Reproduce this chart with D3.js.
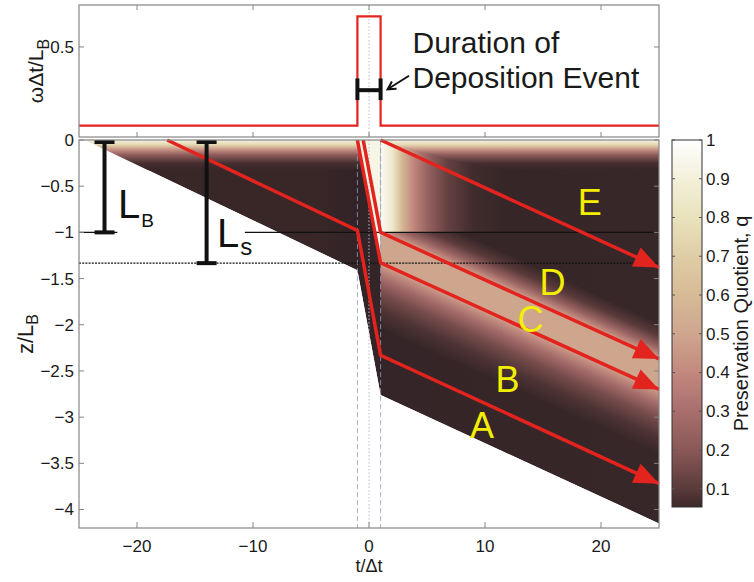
<!DOCTYPE html>
<html>
<head>
<meta charset="utf-8">
<script src="https://cdn.jsdelivr.net/npm/d3@7"></script>
<style>
  body { margin: 0; background: #fff; }
  svg { display: block; font-family: "Liberation Sans", Arial, Helvetica, sans-serif; }
</style>
</head>
<body>
<script>
// ---- values ----
const tTicks = [-20, -10, 0, 10, 20];
const zTicks = [0, -0.5, -1, -1.5, -2, -2.5, -3, -3.5, -4];
const wTicks = [0.5];
const qTicks = [0.1, 0.2, 0.3, 0.4, 0.5, 0.6, 0.7, 0.8, 0.9, 1];

// burial rate (top panel), step after each t
const rateT = [-25, -1, 1, 25];
const rateW = [0.063, 0.67, 0.063, 0.063];

// lower edge of the sediment column
const edgeT = [-24.5, -1, 1, 25];
const edgeZ = [0, -1.41, -2.76, -4.15];

// tracer paths (t/dt, z/LB)
const pathA = [[-17.4, 0], [-1, -0.98], [1, -2.33], [25, -3.72]];
const pathB = [[-1, 0], [1, -1.33], [25, -2.70]];
const pathC = [[-0.5, 0], [1, -1.0], [25, -2.37]];
const pathE = [[1, 0], [25, -1.38]];

// colour map
const cmapQ = [0, 0.05, 0.1, 0.2, 0.3, 0.4, 0.5, 0.6, 0.7, 0.8, 0.9, 1];
const cmapC = ['#2e2127', '#3a2828', '#5a3a3a', '#8a5858', '#a86e6c', '#c2887e',
               '#cea68e', '#d6ba96', '#dfcda6', '#e9e2bc', '#f3f0da', '#ffffff'];
const qMin = 0.053;

// pieces of the q field
const baseT = [-25, -4.5, -1, 1, 25];
const baseQ = [0.045, 0.045, 0.015, 0.03, 0.04];
const surfZ = [0, -0.05, -0.1, -0.16, -0.25, -0.33];
const surfQ = [0.92, 0.75, 0.45, 0.22, 0.07, 0.03];
const stripeT = [1, 2, 2.8, 3.8, 5, 6.8, 9, 12];
const stripeQ = [0.97, 0.85, 0.6, 0.4, 0.25, 0.12, 0.06, 0.03];
const bandDz = [-0.4, -0.25, -0.12, -0.03, 0, 0.33, 0.38, 0.5, 0.65, 0.85, 1.05];
const bandQ = [0.03, 0.1, 0.25, 0.42, 0.5, 0.5, 0.42, 0.28, 0.16, 0.08, 0.03];
const pulseQ = 0.93;

// reference lines and marks
const lbZ = -1, lsZ = -1.333;
const lbSegs = [[-25, -21.7], [-10.7, 25]];
const barLB = { t: -22.8, z0: 0, z1: lbZ };
const barLS = { t: -14.0, z0: 0, z1: lsZ };
const durBar = { t0: -1, t1: 1, w: 0.26, c0: 0.205, c1: 0.325 };
const durArrow = [[3.45, 0.34], [1.6, 0.265]];
const regionLabels = [
  { s: 'E', t: 18.0, z: -0.81 }, { s: 'D', t: 14.7, z: -1.68 },
  { s: 'C', t: 12.8, z: -2.08 }, { s: 'B', t: 10.9, z: -2.73 },
  { s: 'A', t: 8.7, z: -3.23 }
];

const W = 754, H = 582;
const svg = d3.select('body').append('svg').attr('width', W).attr('height', H);
const defs = svg.append('defs');

const x = d3.scaleLinear().domain([-25, 25]).range([79, 659]);
const yTop = d3.scaleLinear().domain([0, 0.733]).range([137, 5]);
const y = d3.scaleLinear().domain([-4.2, 0]).range([528, 140]);
const yBar = d3.scaleLinear().domain([qMin, 1]).range([507, 140]);
const color = d3.scaleLinear().domain(cmapQ).range(cmapC).clamp(true);

const line = d3.line().x(d => x(d[0])).y(d => y(d[1]));
const poly = pts => line(pts) + 'Z';

function linGrad(id, p0, p1, offs, qs) {
  const g = defs.append('linearGradient').attr('id', id)
    .attr('gradientUnits', 'userSpaceOnUse')
    .attr('x1', p0[0]).attr('y1', p0[1]).attr('x2', p1[0]).attr('y2', p1[1]);
  offs.forEach((o, i) => g.append('stop').attr('offset', o).attr('stop-color', color(qs[i])));
}

// ---- heat map ----
const edge = edgeT.map((t, i) => [t, edgeZ[i]]);
const domainPoly = [[25, 0]].concat(edge);
defs.append('clipPath').attr('id', 'domClip').append('path').attr('d', poly(domainPoly));

linGrad('gBase', [x(-25), 0], [x(25), 0], baseT.map(t => (t + 25) / 50), baseQ);
linGrad('gSurf', [0, y(0)], [0, y(surfZ[surfZ.length - 1])],
  surfZ.map(z => z / surfZ[surfZ.length - 1]), surfQ);
linGrad('gStripe', [x(stripeT[0]), 0], [x(stripeT[stripeT.length - 1]), 0],
  stripeT.map(t => (t - stripeT[0]) / (stripeT[stripeT.length - 1] - stripeT[0])), stripeQ);

// band gradient runs perpendicular to path C
{
  const a = pathC[1], b = pathC[2];
  const d0 = bandDz[0], d1 = bandDz[bandDz.length - 1];
  const p0 = [x(a[0]), y(a[1] - d0)];
  const dx = x(b[0]) - x(a[0]), dy = y(b[1]) - y(a[1]);
  const len = Math.hypot(dx, dy), ux = dx / len, uy = dy / len;
  const vy = y(a[1] - d1) - y(a[1] - d0);
  const dot = vy * uy;
  const p1 = [p0[0] - dot * ux, p0[1] + vy - dot * uy];
  linGrad('gBand', p0, p1, bandDz.map(d => (d - d0) / (d1 - d0)), bandQ);
}

const heat = svg.append('g').attr('clip-path', 'url(#domClip)').style('isolation', 'isolate');
heat.append('path').attr('d', poly(domainPoly)).attr('fill', 'url(#gBase)');
heat.append('path')
  .attr('d', poly([[1, 0], [25, 0], [25, lbZ], [1, lbZ]]))
  .attr('fill', 'url(#gStripe)').style('mix-blend-mode', 'lighten');
{
  const a = pathC[1], b = pathC[2], d0 = bandDz[0], d1 = bandDz[bandDz.length - 1];
  heat.append('path')
    .attr('d', poly([[a[0], a[1] - d0], [b[0], b[1] - d0], [b[0], b[1] - d1], [a[0], a[1] - d1]]))
    .attr('fill', 'url(#gBand)').style('mix-blend-mode', 'lighten');
}
heat.append('path')
  .attr('d', poly([pathB[0], [1, 0], pathB[1]]))
  .attr('fill', color(pulseQ)).style('mix-blend-mode', 'lighten');
heat.append('rect')
  .attr('x', x(-25)).attr('width', x(25) - x(-25))
  .attr('y', y(0)).attr('height', y(surfZ[surfZ.length - 1]) - y(0))
  .attr('fill', 'url(#gSurf)').style('mix-blend-mode', 'lighten');

// ---- guide lines, bottom panel ----
[-1, 1].forEach(t => svg.append('line')
  .attr('x1', x(t)).attr('x2', x(t)).attr('y1', y(0)).attr('y2', y(-4.2))
  .attr('stroke', '#8c9ec4').attr('stroke-width', 1).attr('stroke-dasharray', '5,3')
  .attr('opacity', 0.8));
svg.append('line')
  .attr('x1', x(0)).attr('x2', x(0)).attr('y1', y(0)).attr('y2', y(-4.2))
  .attr('stroke', '#b4bccf').attr('stroke-width', 1).attr('stroke-dasharray', '1.5,2');

lbSegs.forEach(s => svg.append('line')
  .attr('x1', x(s[0])).attr('x2', x(s[1])).attr('y1', y(lbZ)).attr('y2', y(lbZ))
  .attr('stroke', '#111').attr('stroke-width', 1.3));
svg.append('line')
  .attr('x1', x(-25)).attr('x2', x(25)).attr('y1', y(lsZ)).attr('y2', y(lsZ))
  .attr('stroke', '#111').attr('stroke-width', 1.4).attr('stroke-dasharray', '2,1.2');

// ---- tracer paths ----
const red = '#e3231e';
[pathA, pathB, pathC, pathE].forEach(p => {
  svg.append('path').attr('d', line(p)).attr('fill', 'none')
    .attr('stroke', red).attr('stroke-width', 3.5).attr('stroke-linejoin', 'miter');
  const n = p.length;
  const x1 = x(p[n - 2][0]), y1 = y(p[n - 2][1]), x2 = x(p[n - 1][0]), y2 = y(p[n - 1][1]);
  const ang = Math.atan2(y2 - y1, x2 - x1);
  const L = 25, hw = 10.5;
  const bx = x2 - L * Math.cos(ang), by = y2 - L * Math.sin(ang);
  svg.append('path')
    .attr('d', `M${x2},${y2}L${bx - hw * Math.sin(ang)},${by + hw * Math.cos(ang)}L${bx + hw * Math.sin(ang)},${by - hw * Math.cos(ang)}Z`)
    .attr('fill', red);
});

// ---- L_B and L_s bars ----
[barLB, barLS].forEach(b => {
  const g = svg.append('g').attr('stroke', '#111').attr('stroke-width', 4);
  g.append('line').attr('x1', x(b.t)).attr('x2', x(b.t)).attr('y1', y(b.z0) + 2).attr('y2', y(b.z1));
  [b.z0, b.z1].forEach((z, i) => g.append('line')
    .attr('x1', x(b.t) - 10).attr('x2', x(b.t) + 10)
    .attr('y1', y(z) + (i ? 0 : 2)).attr('y2', y(z) + (i ? 0 : 2)));
});
const lbText = svg.append('text').attr('x', x(-21.64)).attr('y', y(-0.844))
  .attr('font-size', 40).attr('fill', '#111').text('L');
lbText.append('tspan').attr('font-size', 19).attr('dx', 1).attr('dy', 9).text('B');
const lsText = svg.append('text').attr('x', x(-13.1)).attr('y', y(-1.158))
  .attr('font-size', 40).attr('fill', '#111').text('L');
lsText.append('tspan').attr('font-size', 24).attr('dx', 1).attr('dy', 8).text('s');

// region letters
svg.selectAll('text.reg').data(regionLabels).join('text').attr('class', 'reg')
  .attr('x', d => x(d.t)).attr('y', d => y(d.z))
  .attr('font-size', 36).attr('fill', '#f2ef00').text(d => d.s);

// ---- bottom axes frame, ticks, labels ----
const axCol = '#858585';
svg.append('rect').attr('x', x(-25)).attr('y', y(0)).attr('width', x(25) - x(-25)).attr('height', y(-4.2) - y(0))
  .attr('fill', 'none').attr('stroke', axCol).attr('stroke-width', 1.2);
tTicks.forEach(t => {
  svg.append('line').attr('x1', x(t)).attr('x2', x(t)).attr('y1', y(-4.2)).attr('y2', y(-4.2) - 6).attr('stroke', axCol);
  svg.append('text').attr('x', x(t)).attr('y', 552).attr('text-anchor', 'middle')
    .attr('font-size', 17).attr('fill', '#1a1a1a').text(d3.format('')(t).replace('-', '\u2212'));
});
zTicks.forEach(z => {
  svg.append('line').attr('x1', x(-25)).attr('x2', x(-25) + 5).attr('y1', y(z)).attr('y2', y(z)).attr('stroke', axCol);
  svg.append('line').attr('x1', x(25)).attr('x2', x(25) - 5).attr('y1', y(z)).attr('y2', y(z)).attr('stroke', axCol);
  svg.append('text').attr('x', 74).attr('y', y(z)).attr('dy', '0.35em').attr('text-anchor', 'end')
    .attr('font-size', 17).attr('fill', '#1a1a1a').text(String(z).replace('-', '\u2212'));
});
svg.append('text').attr('x', x(0)).attr('y', 572).attr('text-anchor', 'middle')
  .attr('font-size', 18).attr('fill', '#1a1a1a').text('t/\u0394t');
const zl = svg.append('text').attr('transform', `translate(33,${(y(0) + y(-4.2)) / 2}) rotate(-90)`)
  .attr('text-anchor', 'middle').attr('font-size', 22).attr('fill', '#1a1a1a').text('z/L');
zl.append('tspan').attr('font-size', 16).attr('dy', 5).text('B');

// ---- top panel ----
svg.append('line').attr('x1', x(0)).attr('x2', x(0)).attr('y1', yTop(0.733)).attr('y2', yTop(0))
  .attr('stroke', '#b4bccf').attr('stroke-width', 1).attr('stroke-dasharray', '1.5,2');
const rate = rateT.map((t, i) => [t, rateW[i]]);
svg.append('path')
  .attr('d', d3.line().x(d => x(d[0])).y(d => yTop(d[1])).curve(d3.curveStepAfter)(rate))
  .attr('fill', 'none').attr('stroke', red).attr('stroke-width', 2.2);

const dg = svg.append('g').attr('stroke', '#111').attr('stroke-width', 4);
dg.append('line').attr('x1', x(durBar.t0)).attr('x2', x(durBar.t1)).attr('y1', yTop(durBar.w)).attr('y2', yTop(durBar.w));
[durBar.t0, durBar.t1].forEach(t => dg.append('line')
  .attr('x1', x(t)).attr('x2', x(t)).attr('y1', yTop(durBar.c0)).attr('y2', yTop(durBar.c1)));
{
  const a = durArrow[0], b = durArrow[1];
  const x1 = x(a[0]), y1 = yTop(a[1]), x2 = x(b[0]), y2 = yTop(b[1]);
  const ang = Math.atan2(y2 - y1, x2 - x1);
  const ah = 9, sp = 0.5;
  svg.append('path')
    .attr('d', `M${x1},${y1}L${x2},${y2}M${x2 - ah * Math.cos(ang - sp)},${y2 - ah * Math.sin(ang - sp)}L${x2},${y2}L${x2 - ah * Math.cos(ang + sp)},${y2 - ah * Math.sin(ang + sp)}`)
    .attr('fill', 'none').attr('stroke', '#111').attr('stroke-width', 2);
}
svg.append('text').attr('x', x(3.75)).attr('y', yTop(0.465)).attr('font-size', 30).attr('fill', '#1a1a1a').text('Duration of');
svg.append('text').attr('x', x(3.75)).attr('y', yTop(0.272)).attr('font-size', 30).attr('fill', '#1a1a1a').text('Deposition Event');

svg.append('rect').attr('x', x(-25)).attr('y', yTop(0.733)).attr('width', x(25) - x(-25)).attr('height', yTop(0) - yTop(0.733))
  .attr('fill', 'none').attr('stroke', axCol).attr('stroke-width', 1.2);
tTicks.forEach(t => {
  svg.append('line').attr('x1', x(t)).attr('x2', x(t)).attr('y1', yTop(0)).attr('y2', yTop(0) - 5).attr('stroke', axCol);
  svg.append('line').attr('x1', x(t)).attr('x2', x(t)).attr('y1', yTop(0.733)).attr('y2', yTop(0.733) + 5).attr('stroke', axCol);
});
wTicks.forEach(w => {
  svg.append('line').attr('x1', x(-25)).attr('x2', x(-25) + 5).attr('y1', yTop(w)).attr('y2', yTop(w)).attr('stroke', axCol);
  svg.append('line').attr('x1', x(25)).attr('x2', x(25) - 5).attr('y1', yTop(w)).attr('y2', yTop(w)).attr('stroke', axCol);
  svg.append('text').attr('x', 74).attr('y', yTop(w)).attr('dy', '0.35em').attr('text-anchor', 'end')
    .attr('font-size', 17).attr('fill', '#1a1a1a').text(w);
});
const wl = svg.append('text').attr('transform', `translate(43,${(yTop(0) + yTop(0.733)) / 2}) rotate(-90)`)
  .attr('text-anchor', 'middle').attr('font-size', 21).attr('fill', '#1a1a1a').text('\u03c9\u0394t/L');
wl.append('tspan').attr('font-size', 16).attr('dy', 6).text('B');

// ---- colorbar ----
const cbG = defs.append('linearGradient').attr('id', 'gBar').attr('x1', 0).attr('x2', 0).attr('y1', 1).attr('y2', 0);
[qMin].concat(cmapQ.filter(q => q > qMin)).forEach(q => cbG.append('stop')
  .attr('offset', (q - qMin) / (1 - qMin)).attr('stop-color', color(q)));
svg.append('rect').attr('x', 672).attr('y', yBar(1)).attr('width', 30).attr('height', yBar(qMin) - yBar(1))
  .attr('fill', 'url(#gBar)').attr('stroke', '#333').attr('stroke-width', 1);
qTicks.forEach(q => {
  svg.append('line').attr('x1', 672).attr('x2', 675).attr('y1', yBar(q)).attr('y2', yBar(q)).attr('stroke', '#555');
  svg.append('line').attr('x1', 702).attr('x2', 699).attr('y1', yBar(q)).attr('y2', yBar(q)).attr('stroke', '#555');
  svg.append('text').attr('x', 706).attr('y', yBar(q)).attr('dy', '0.35em')
    .attr('font-size', 17).attr('fill', '#1a1a1a').text(q);
});
svg.append('text').attr('transform', `translate(748,${(yBar(1) + yBar(qMin)) / 2}) rotate(-90)`)
  .attr('text-anchor', 'middle').attr('font-size', 20).attr('fill', '#1a1a1a').text('Preservation Quotient, q');
</script>
</body>
</html>
